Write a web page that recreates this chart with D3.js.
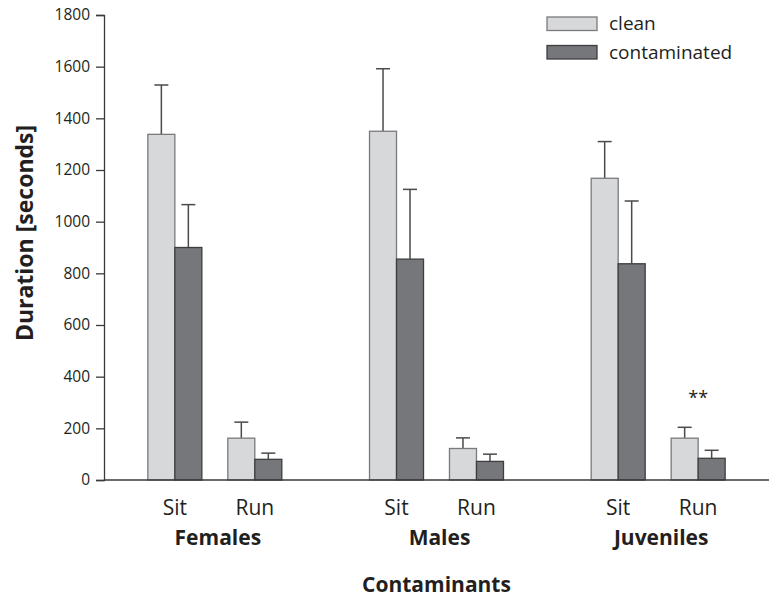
<!DOCTYPE html>
<html><head><meta charset="utf-8">
<script src="https://cdn.jsdelivr.net/npm/d3@7"></script>
<style>body{margin:0;background:#fff;} text{font-family:"Open Sans",sans-serif;fill:#231f20;}</style>
</head><body><svg id="c" width="769" height="600"></svg>
<script>
const groups = ["Females", "Males", "Juveniles"];
const behaviours = ["Sit", "Run"];
const series = ["clean", "contaminated"];
// means, indexed [group][behaviour]
const cleanMean = [[1338, 162], [1350, 122], [1168, 162]];
const cleanErr  = [[191, 62], [242, 41], [142, 42]];
const contMean  = [[900, 80], [855, 72], [837, 84]];
const contErr   = [[166, 24], [270, 28], [243, 31]];
const yTicks = [0, 200, 400, 600, 800, 1000, 1200, 1400, 1600, 1800];
const annotations = [{group: "Juveniles", behaviour: "Run", value: 330, label: "**"}];

const colors = {clean: "#d7d8da", contaminated: "#76777a"};
const strokes = {clean: "#7a7a7c", contaminated: "#3e3e40"};

const svg = d3.select("#c");
const mLeft = 104, mRight = 769, mTop = 15, mBottom = 480;

const y = d3.scaleLinear().domain([0, 1800]).range([mBottom, mTop]);
const xg = d3.scaleBand().domain(groups).range([mLeft, mRight]).padding(0);
const xb = d3.scalePoint().domain(behaviours).range([0, xg.bandwidth()]).padding(0.886);
const xs = d3.scaleBand().domain(series).range([-27, 27]).padding(0);

const rows = [];
groups.forEach((g, gi) => behaviours.forEach((b, bi) => {
  rows.push({g, b, s: "clean", v: cleanMean[gi][bi], e: cleanErr[gi][bi]});
  rows.push({g, b, s: "contaminated", v: contMean[gi][bi], e: contErr[gi][bi]});
}));

// y axis
const yAxis = d3.axisLeft(y).tickValues(yTicks).tickFormat(d3.format("d")).tickSize(8).tickPadding(6);
const ya = svg.append("g").attr("transform", `translate(${mLeft},0)`).call(yAxis);
ya.select(".domain").attr("stroke", "#3a3a3a").attr("stroke-width", 1.3);
ya.selectAll(".tick line").attr("stroke", "#3a3a3a").attr("stroke-width", 1.3);
ya.selectAll(".tick text").attr("font-size", 15.5).attr("font-family", "Open Sans").attr("fill", "#231f20");

// error bars
const eb = svg.append("g");
rows.forEach(r => {
  const cx = xg(r.g) + xb(r.b) + xs(r.s) + xs.bandwidth() / 2;
  eb.append("line").attr("x1", cx).attr("x2", cx).attr("y1", y(r.v)).attr("y2", y(r.v + r.e))
    .attr("stroke", "#4a4a4c").attr("stroke-width", 1.5);
  eb.append("line").attr("x1", cx - 7).attr("x2", cx + 7).attr("y1", y(r.v + r.e)).attr("y2", y(r.v + r.e))
    .attr("stroke", "#4a4a4c").attr("stroke-width", 1.5);
});

// bars
svg.append("g").selectAll("rect").data(rows).join("rect")
  .attr("x", d => xg(d.g) + xb(d.b) + xs(d.s))
  .attr("y", d => y(d.v))
  .attr("width", xs.bandwidth())
  .attr("height", d => y(0) - y(d.v))
  .attr("fill", d => colors[d.s])
  .attr("stroke", d => strokes[d.s])
  .attr("stroke-width", 1.3);

// x baseline
svg.append("line").attr("x1", mLeft).attr("x2", mRight).attr("y1", y(0)).attr("y2", y(0))
  .attr("stroke", "#3a3a3a").attr("stroke-width", 1.3);

// behaviour labels
groups.forEach(g => behaviours.forEach(b => {
  svg.append("text").attr("x", xg(g) + xb(b)).attr("y", 515).attr("text-anchor", "middle")
    .attr("font-size", 21).text(b);
}));
// group labels
svg.selectAll(".gl").data(groups).join("text")
  .attr("x", d => xg(d) + xg.bandwidth() / 2 + 3).attr("y", 545).attr("text-anchor", "middle")
  .attr("font-size", 21).attr("font-weight", "bold").text(d => d);

// axis titles
svg.append("text").attr("x", (mLeft + mRight) / 2).attr("y", 592).attr("text-anchor", "middle")
  .attr("font-size", 21).attr("font-weight", "bold").text("Contaminants");
svg.append("text").attr("transform", "translate(33,233) rotate(-90)").attr("text-anchor", "middle")
  .attr("font-size", 23).attr("font-weight", "bold").text("Duration [seconds]");

// annotation
annotations.forEach(a => {
  svg.append("text").attr("x", xg(a.group) + xb(a.behaviour)).attr("y", y(a.value) + 9)
    .attr("text-anchor", "middle").attr("font-size", 18).text(a.label);
});

// legend
const lg = svg.append("g");
series.forEach((s, i) => {
  lg.append("rect").attr("x", 547).attr("y", 17 + i * 28.5).attr("width", 50).attr("height", 13.5)
    .attr("fill", colors[s]).attr("stroke", strokes[s]).attr("stroke-width", 1.3);
  lg.append("text").attr("x", 609).attr("y", 30 + i * 28.5).attr("font-size", 19).text(s);
});
</script></body></html>
